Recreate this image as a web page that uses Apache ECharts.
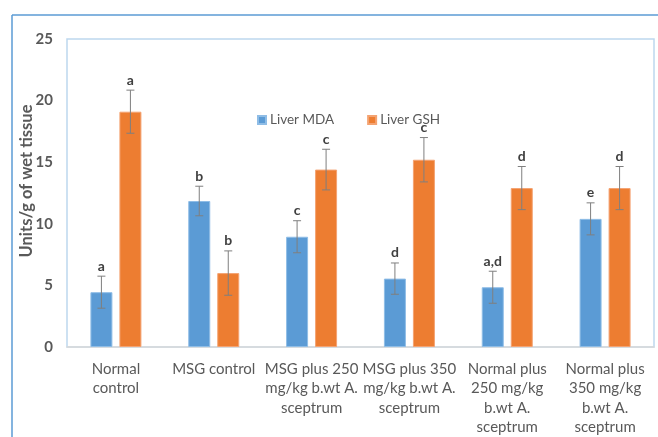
<!DOCTYPE html>
<html>
<head>
<meta charset="utf-8">
<script src="https://cdn.jsdelivr.net/npm/echarts@6/dist/echarts.min.js"></script>
<style>
  html, body { margin: 0; padding: 0; background: #fff; overflow: hidden; }
  #chart { width: 658px; height: 437px; }
</style>
</head>
<body>
<div id="chart"></div>
<script>
// Group names shown under the x axis
const categories = [
  'Normal\ncontrol',
  'MSG control',
  'MSG plus 250\nmg/kg b.wt A.\nsceptrum',
  'MSG plus 350\nmg/kg b.wt A.\nsceptrum',
  'Normal plus\n250 mg/kg\nb.wt A.\nsceptrum',
  'Normal plus\n350 mg/kg\nb.wt A.\nsceptrum'
];

// Liver MDA (mean, SD, significance letter)
const mdaValues = [4.45, 11.85, 8.95, 5.55, 4.85, 10.4];
const mdaErrors = [1.3, 1.2, 1.3, 1.27, 1.3, 1.3];
const mdaLetters = ['a', 'b', 'c', 'd', 'a,d', 'e'];

// Liver GSH (mean, SD, significance letter)
const gshValues = [19.1, 6.0, 14.4, 15.2, 12.9, 12.9];
const gshErrors = [1.75, 1.8, 1.65, 1.8, 1.75, 1.75];
const gshLetters = ['a', 'b', 'c', 'c', 'd', 'd'];

const yTicks = [0, 5, 10, 15, 20, 25];

const FONT = 'Lato, "Open Sans", sans-serif';
const TEXT_GREY = '#595959';
const BAR_W = 22;
const BAR_GAP = 7;

// Whisker + letter for one series, shifted to sit over its bar in the group
function errorSeries(name, values, errors, letters, shift) {
  return {
    type: 'custom',
    name: name + ' error',
    z: 5,
    data: values.map((v, i) => [i, v - errors[i], v + errors[i]]),
    renderItem: function (params, api) {
      const lo = api.coord([api.value(0), api.value(1)]);
      const hi = api.coord([api.value(0), api.value(2)]);
      const x = lo[0] + shift;
      const cap = 4;
      const style = { stroke: '#7f7f7f', lineWidth: 1 };
      return {
        type: 'group',
        children: [
          { type: 'line', shape: { x1: x, y1: lo[1], x2: x, y2: hi[1] }, style },
          { type: 'line', shape: { x1: x - cap, y1: hi[1], x2: x + cap, y2: hi[1] }, style },
          { type: 'line', shape: { x1: x - cap, y1: lo[1], x2: x + cap, y2: lo[1] }, style },
          {
            type: 'text',
            style: {
              text: letters[params.dataIndex],
              x: x,
              y: hi[1] - 3,
              align: 'center',
              verticalAlign: 'bottom',
              fill: '#404040',
              font: 'bold 14px ' + FONT
            }
          }
        ]
      };
    }
  };
}

const chart = echarts.init(document.getElementById('chart'), null, { renderer: 'canvas' });
const half = (BAR_W + BAR_GAP) / 2;

chart.setOption({
  animation: false,
  backgroundColor: '#ffffff',
  grid: {
    left: 67, right: 4, top: 39, height: 312,
    show: true, borderColor: '#bdd7ee', borderWidth: 1.5
  },
  legend: {
    left: 252, top: 108,
    itemWidth: 8, itemHeight: 8, itemGap: 33,
    icon: 'rect',
    textStyle: { color: TEXT_GREY, fontSize: 13.5, fontFamily: FONT, padding: [0, 0, 0, -1] },
    data: ['Liver MDA', 'Liver GSH']
  },
  xAxis: {
    type: 'category',
    data: categories,
    axisLine: { lineStyle: { color: '#d9d9d9', width: 1.5 } },
    axisTick: { show: false },
    axisLabel: {
      color: TEXT_GREY, fontSize: 15, fontFamily: FONT,
      lineHeight: 19.5, margin: 12, interval: 0
    }
  },
  yAxis: {
    type: 'value',
    min: 0, max: 25, interval: 5,
    splitLine: { show: false },
    axisLine: { show: false },
    axisTick: { show: false },
    axisLabel: {
      color: TEXT_GREY, fontSize: 15, fontWeight: 'bold', fontFamily: FONT, margin: 14,
      formatter: v => (yTicks.indexOf(v) >= 0 ? String(v) : '')
    }
  },
  graphic: [
    // outer frame edges
    { type: 'line', shape: { x1: 12, y1: 15, x2: 658, y2: 15 }, style: { stroke: '#5b9bd5', lineWidth: 1.5 } },
    { type: 'line', shape: { x1: 12, y1: 15, x2: 12, y2: 437 }, style: { stroke: '#5b9bd5', lineWidth: 1.5 } },
    {
      type: 'text', x: 27, y: 181, rotation: Math.PI / 2,
      style: {
        text: 'Units/g of wet tissue', align: 'center', verticalAlign: 'middle',
        fill: TEXT_GREY, font: 'bold 16.5px ' + FONT
      }
    }
  ],
  series: [
    {
      name: 'Liver MDA', type: 'bar', data: mdaValues,
      barWidth: BAR_W, barGap: (BAR_GAP / BAR_W * 100) + '%',
      itemStyle: { color: '#5b9bd5', borderColor: '#8fbde6', borderWidth: 1 }
    },
    {
      name: 'Liver GSH', type: 'bar', data: gshValues,
      barWidth: BAR_W,
      itemStyle: { color: '#ed7d31', borderColor: '#f4a372', borderWidth: 1 }
    },
    errorSeries('Liver MDA', mdaValues, mdaErrors, mdaLetters, -half),
    errorSeries('Liver GSH', gshValues, gshErrors, gshLetters, half)
  ]
});
</script>
</body>
</html>
